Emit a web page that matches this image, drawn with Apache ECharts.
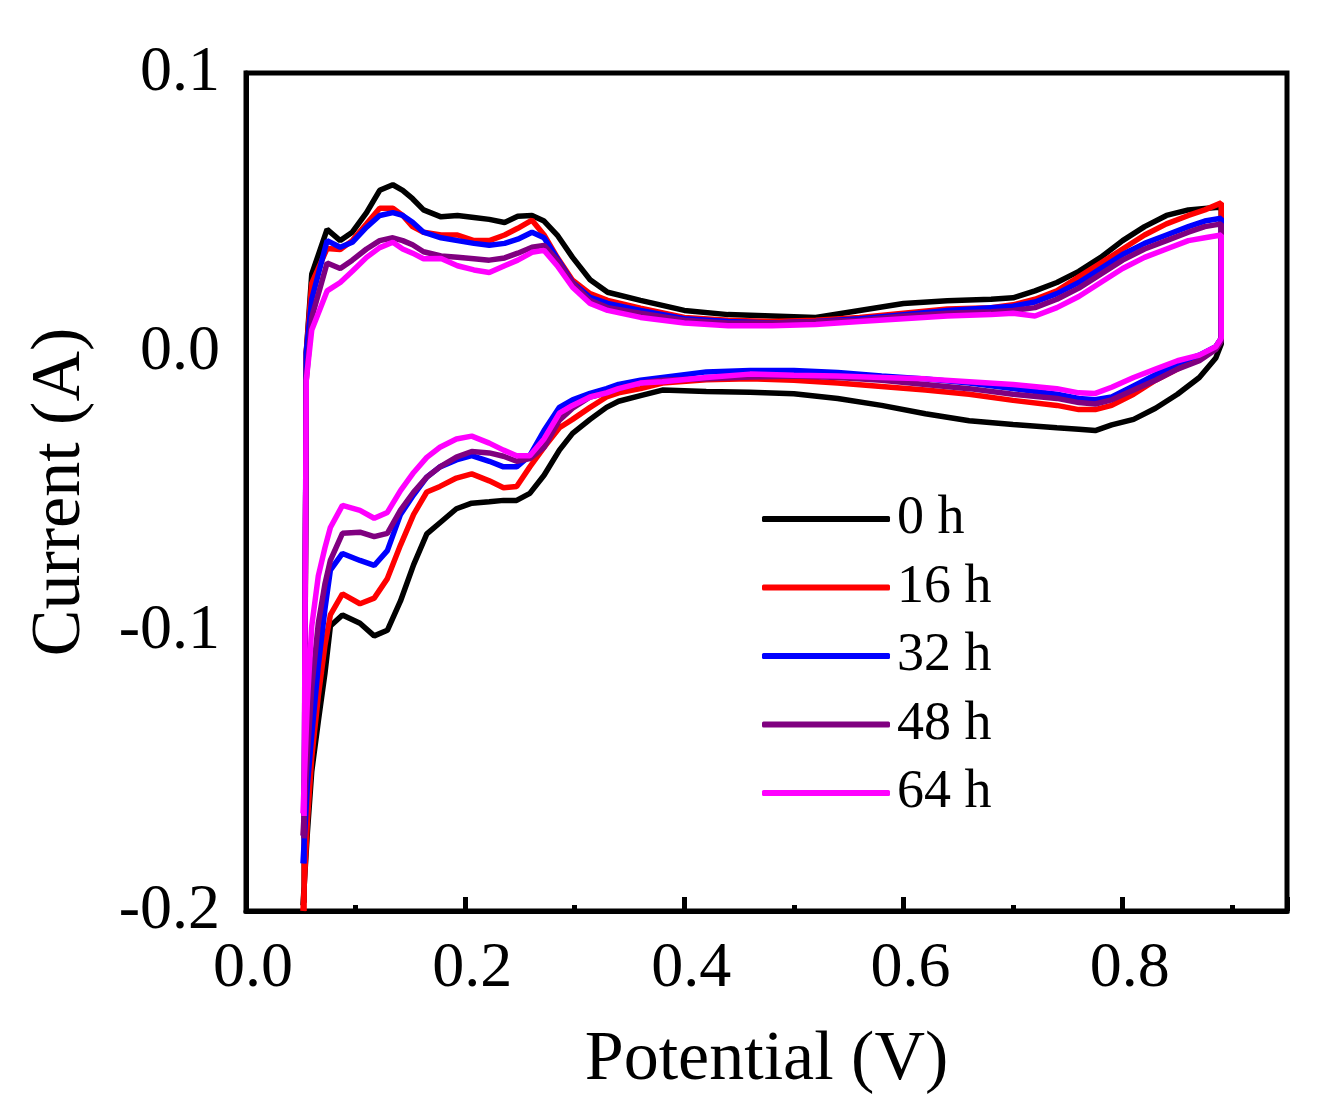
<!DOCTYPE html>
<html lang="en">

<head>
  <meta charset="UTF-8">
  <title>CV curves</title>
  <script src="https://cdn.jsdelivr.net/npm/echarts@6/dist/echarts.min.js"></script>
  <style>
    * {
      padding: 0;
      margin: 0;
    }

    #main {
      width: 1330px;
      height: 1118px;
      background: #fff;
    }
  </style>
</head>

<body>
  <div id="main"></div>
  <script>
    // potential grid of the forward (anodic) sweep, left -> right
    var anodicE = [0.053, 0.055, 0.060, 0.074, 0.086, 0.097, 0.110, 0.122, 0.134, 0.143, 0.152, 0.162,
      0.178, 0.193, 0.208, 0.222, 0.236, 0.248, 0.261, 0.272, 0.284, 0.298, 0.314, 0.330, 0.360, 0.400,
      0.440, 0.480, 0.520, 0.560, 0.600, 0.640, 0.680, 0.700, 0.720, 0.740, 0.760, 0.780, 0.800, 0.820,
      0.840, 0.860, 0.875, 0.890];
    // potential grid of the reverse (cathodic) sweep, right -> left
    var cathodicE = [0.890, 0.885, 0.870, 0.850, 0.830, 0.810, 0.790, 0.775, 0.760, 0.740, 0.700, 0.660,
      0.620, 0.580, 0.540, 0.500, 0.460, 0.420, 0.380, 0.360, 0.340, 0.329, 0.314, 0.298, 0.286, 0.272,
      0.259, 0.247, 0.235, 0.222, 0.206, 0.192, 0.177, 0.165, 0.153, 0.141, 0.129, 0.117, 0.104, 0.088,
      0.077, 0.072, 0.066, 0.060, 0.056, 0.052];

    var anodic0h = [-0.197, 0.000, 0.028, 0.044, 0.040, 0.043, 0.050, 0.058, 0.060, 0.058, 0.055, 0.051,
      0.0485, 0.049, 0.0483, 0.0476, 0.0465, 0.0487, 0.049, 0.047, 0.042, 0.034, 0.026, 0.0215, 0.0186, 0.015,
      0.0135, 0.013, 0.0125, 0.015, 0.0175, 0.0185, 0.019, 0.0195, 0.022, 0.025, 0.029, 0.034, 0.040, 0.045,
      0.049, 0.051, 0.0515, 0.052];
    var cathodic0h = [0.003, -0.002, -0.009, -0.015, -0.020, -0.024, -0.026, -0.028, -0.0275, -0.027, -0.0258, -0.0245,
      -0.022, -0.019, -0.0165, -0.0148, -0.0143, -0.014, -0.0135, -0.0155, -0.0175, -0.0197, -0.024, -0.029, -0.035, -0.044,
      -0.0505, -0.053, -0.053, -0.0535, -0.054, -0.056, -0.061, -0.065, -0.076, -0.089, -0.0995, -0.1015, -0.097, -0.094,
      -0.098, -0.115, -0.132, -0.150, -0.172, -0.198];

    var anodic16h = [-0.200, 0.000, 0.0247, 0.0372, 0.0368, 0.040, 0.046, 0.0516, 0.0516, 0.049, 0.045, 0.043,
      0.042, 0.042, 0.040, 0.040, 0.042, 0.0444, 0.0473, 0.042, 0.034, 0.0258, 0.021, 0.0186, 0.0158, 0.0125,
      0.0115, 0.011, 0.0115, 0.0125, 0.014, 0.0155, 0.016, 0.017, 0.019, 0.022, 0.027, 0.032, 0.037, 0.042,
      0.046, 0.049, 0.051, 0.0535];
    var cathodic16h = [0.005, 0.002, -0.002, -0.006, -0.010, -0.015, -0.019, -0.0205, -0.0205, -0.019, -0.0172, -0.015,
      -0.0135, -0.0122, -0.011, -0.010, -0.0095, -0.0098, -0.011, -0.013, -0.0145, -0.016, -0.0197, -0.024, -0.027, -0.034,
      -0.041, -0.048, -0.0485, -0.046, -0.0435, -0.045, -0.048, -0.050, -0.058, -0.069, -0.081, -0.088, -0.090, -0.0865,
      -0.094, -0.105, -0.123, -0.145, -0.168, -0.200];

    var anodic32h = [-0.183, 0.000, 0.019, 0.040, 0.0376, 0.0394, 0.0448, 0.049, 0.050, 0.049, 0.0466, 0.043,
      0.041, 0.040, 0.039, 0.0383, 0.039, 0.0405, 0.043, 0.041, 0.0336, 0.025, 0.0197, 0.0175, 0.015, 0.012,
      0.011, 0.0105, 0.011, 0.012, 0.0135, 0.015, 0.016, 0.0165, 0.018, 0.021, 0.025, 0.030, 0.035, 0.039,
      0.042, 0.045, 0.047, 0.048];
    var cathodic32h = [0.005, 0.002, -0.001, -0.004, -0.008, -0.012, -0.016, -0.017, -0.0165, -0.015, -0.013, -0.011,
      -0.0095, -0.0085, -0.0072, -0.0065, -0.0065, -0.007, -0.009, -0.010, -0.0115, -0.013, -0.0147, -0.017, -0.0197, -0.028,
      -0.037, -0.041, -0.041, -0.039, -0.037, -0.0385, -0.041, -0.0447, -0.051, -0.058, -0.071, -0.0763, -0.0745, -0.072,
      -0.078, -0.092, -0.112, -0.137, -0.155, -0.183];

    var anodic48h = [-0.174, -0.010, 0.0125, 0.032, 0.030, 0.033, 0.037, 0.040, 0.041, 0.040, 0.0385, 0.036,
      0.0345, 0.034, 0.0335, 0.033, 0.0338, 0.0355, 0.0376, 0.0383, 0.033, 0.0247, 0.0186, 0.016, 0.014, 0.0115,
      0.0105, 0.0105, 0.011, 0.0115, 0.013, 0.014, 0.0145, 0.015, 0.016, 0.019, 0.023, 0.028, 0.033, 0.037,
      0.040, 0.043, 0.045, 0.046];
    var cathodic48h = [0.004, 0.001, -0.003, -0.006, -0.010, -0.0135, -0.017, -0.0185, -0.018, -0.0165, -0.015, -0.013,
      -0.0115, -0.010, -0.009, -0.0085, -0.0088, -0.0095, -0.010, -0.011, -0.013, -0.0145, -0.016, -0.020, -0.0243, -0.034,
      -0.038, -0.039, -0.0372, -0.036, -0.0355, -0.0375, -0.041, -0.0447, -0.050, -0.0565, -0.0648, -0.066, -0.0644, -0.0648,
      -0.0745, -0.083, -0.097, -0.120, -0.144, -0.173];

    var anodic64h = [-0.166, -0.010, 0.008, 0.022, 0.025, 0.029, 0.034, 0.0375, 0.0394, 0.037, 0.0355, 0.0335,
      0.0336, 0.031, 0.0295, 0.0286, 0.031, 0.033, 0.0358, 0.0365, 0.031, 0.0233, 0.0175, 0.015, 0.0125, 0.0105,
      0.0095, 0.0095, 0.010, 0.011, 0.012, 0.013, 0.0135, 0.014, 0.013, 0.016, 0.020, 0.025, 0.030, 0.034,
      0.037, 0.040, 0.041, 0.042];
    var cathodic64h = [0.005, 0.002, -0.001, -0.003, -0.006, -0.009, -0.0125, -0.0147, -0.0145, -0.013, -0.0115, -0.0105,
      -0.0095, -0.009, -0.0085, -0.0082, -0.0078, -0.009, -0.0105, -0.011, -0.013, -0.0145, -0.016, -0.019, -0.0218, -0.031,
      -0.037, -0.037, -0.035, -0.0325, -0.030, -0.031, -0.034, -0.0376, -0.043, -0.0495, -0.0573, -0.0594, -0.0566, -0.0548,
      -0.0627, -0.070, -0.080, -0.098, -0.125, -0.165];

    var seriesNames = ['0 h', '16 h', '32 h', '48 h', '64 h'];
    var anodicSets = [anodic0h, anodic16h, anodic32h, anodic48h, anodic64h];
    var cathodicSets = [cathodic0h, cathodic16h, cathodic32h, cathodic48h, cathodic64h];
    var colors = ['#000000', '#ff0000', '#0000ff', '#800080', '#ff00ff'];

    var xTicks = { min: 0, max: 0.95, step: 0.2 };
    var yTicks = { min: -0.2, max: 0.1, step: 0.1 };

    var font = '"Liberation Serif", "Times New Roman", serif';

    // one closed loop per curve: forward sweep then reverse sweep
    function loop(an, ca) {
      var pts = anodicE.map(function (e, i) { return [e, an[i]]; });
      return pts.concat(cathodicE.map(function (e, i) { return [e, ca[i]]; }));
    }

    var chartDom = document.getElementById('main');
    var myChart = echarts.init(chartDom);
    var option;

    option = {
      animation: false,
      color: colors,
      grid: {
        left: 246,
        right: 43,
        top: 73,
        bottom: 207,
        show: true,
        borderColor: '#000',
        borderWidth: 5,
        backgroundColor: 'transparent'
      },
      legend: {
        orient: 'vertical',
        left: 757,
        top: 487,
        icon: 'roundRect',
        itemWidth: 128,
        itemHeight: 6,
        itemGap: 14.5,
        textStyle: {
          fontFamily: font,
          fontSize: 54,
          lineHeight: 54,
          color: '#000',
          padding: [0, 0, 0, 2]
        },
        data: seriesNames
      },
      xAxis: {
        type: 'value',
        min: xTicks.min,
        max: xTicks.max,
        interval: xTicks.step,
        name: 'Potential (V)',
        nameLocation: 'middle',
        nameGap: 115,
        nameTextStyle: { fontFamily: font, fontSize: 70, color: '#000' },
        axisLine: { onZero: false, lineStyle: { color: '#000', width: 5 } },
        axisTick: { inside: true, length: 14, lineStyle: { color: '#000', width: 5 } },
        minorTick: { show: true, splitNumber: 2, length: 6, lineStyle: { color: '#000', width: 5 } },
        axisLabel: {
          fontFamily: font,
          fontSize: 64,
          color: '#000',
          margin: 26,
          padding: [0, 0, 0, 14],
          showMaxLabel: false,
          formatter: function (v) { return v.toFixed(1); }
        },
        splitLine: { show: false }
      },
      yAxis: {
        type: 'value',
        min: yTicks.min,
        max: yTicks.max,
        interval: yTicks.step,
        name: 'Current (A)',
        nameLocation: 'middle',
        nameGap: 150,
        nameRotate: 90,
        nameTextStyle: { fontFamily: font, fontSize: 70, color: '#000' },
        axisLine: { onZero: false, lineStyle: { color: '#000', width: 5 } },
        axisTick: { show: false },
        axisLabel: {
          fontFamily: font,
          fontSize: 64,
          color: '#000',
          margin: 26,
          formatter: function (v) { return v.toFixed(1); }
        },
        splitLine: { show: false }
      },
      series: seriesNames.map(function (name, k) {
        return {
          name: name,
          type: 'line',
          symbol: 'none',
          showSymbol: false,
          lineStyle: { width: 5.5, color: colors[k] },
          itemStyle: { color: colors[k] },
          data: loop(anodicSets[k], cathodicSets[k])
        };
      })
    };

    option && myChart.setOption(option);
  </script>
</body>

</html>
